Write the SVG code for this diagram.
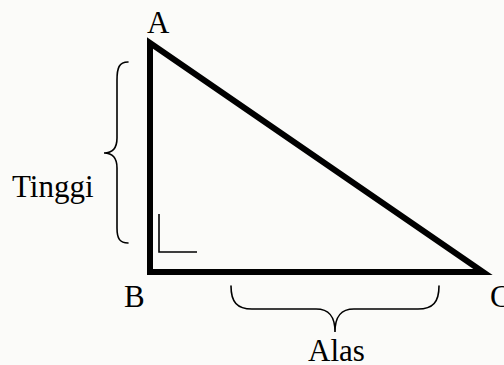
<svg xmlns="http://www.w3.org/2000/svg" width="504" height="365" viewBox="0 0 504 365">
  <style>
    .lbl { font-family: "Liberation Serif", "Times New Roman", serif; font-size: 31px; fill: #000; }
    .brace { fill: none; stroke: #000; stroke-width: 1.6; stroke-linecap: round; }
  </style>
  <rect x="0" y="0" width="504" height="365" fill="#fbfbf9"/>
  <g id="triangle">
    <polygon points="150,43 150,272 483,272" fill="none" stroke="#000" stroke-width="6" stroke-linejoin="miter"/>
    <path d="M159,214 L159,252 L197,252" fill="none" stroke="#000" stroke-width="1.6"/>
  </g>
  <g id="label-A"><text class="lbl" x="147" y="33">A</text></g>
  <g id="label-B"><text class="lbl" x="124" y="307">B</text></g>
  <g id="label-C"><text class="lbl" x="490" y="307">C</text></g>
  <g id="tinggi">
    <path class="brace" d="M128,62 C119,62 117,68 117,80 L117,138 C117,148 113,153 104,153 C113,153 117,158 117,168 L117,228 C117,239 120,243 128,243"/>
    <text class="lbl" x="12" y="197">Tinggi</text>
  </g>
  <g id="alas">
    <path class="brace" d="M231,286 C231,302 237,309 252,309 L316,309 C329,309 335,316 335,332 C335,316 341,309 354,309 L418,309 C433,309 439,302 439,286"/>
    <text class="lbl" x="308" y="361">Alas</text>
  </g>
</svg>
